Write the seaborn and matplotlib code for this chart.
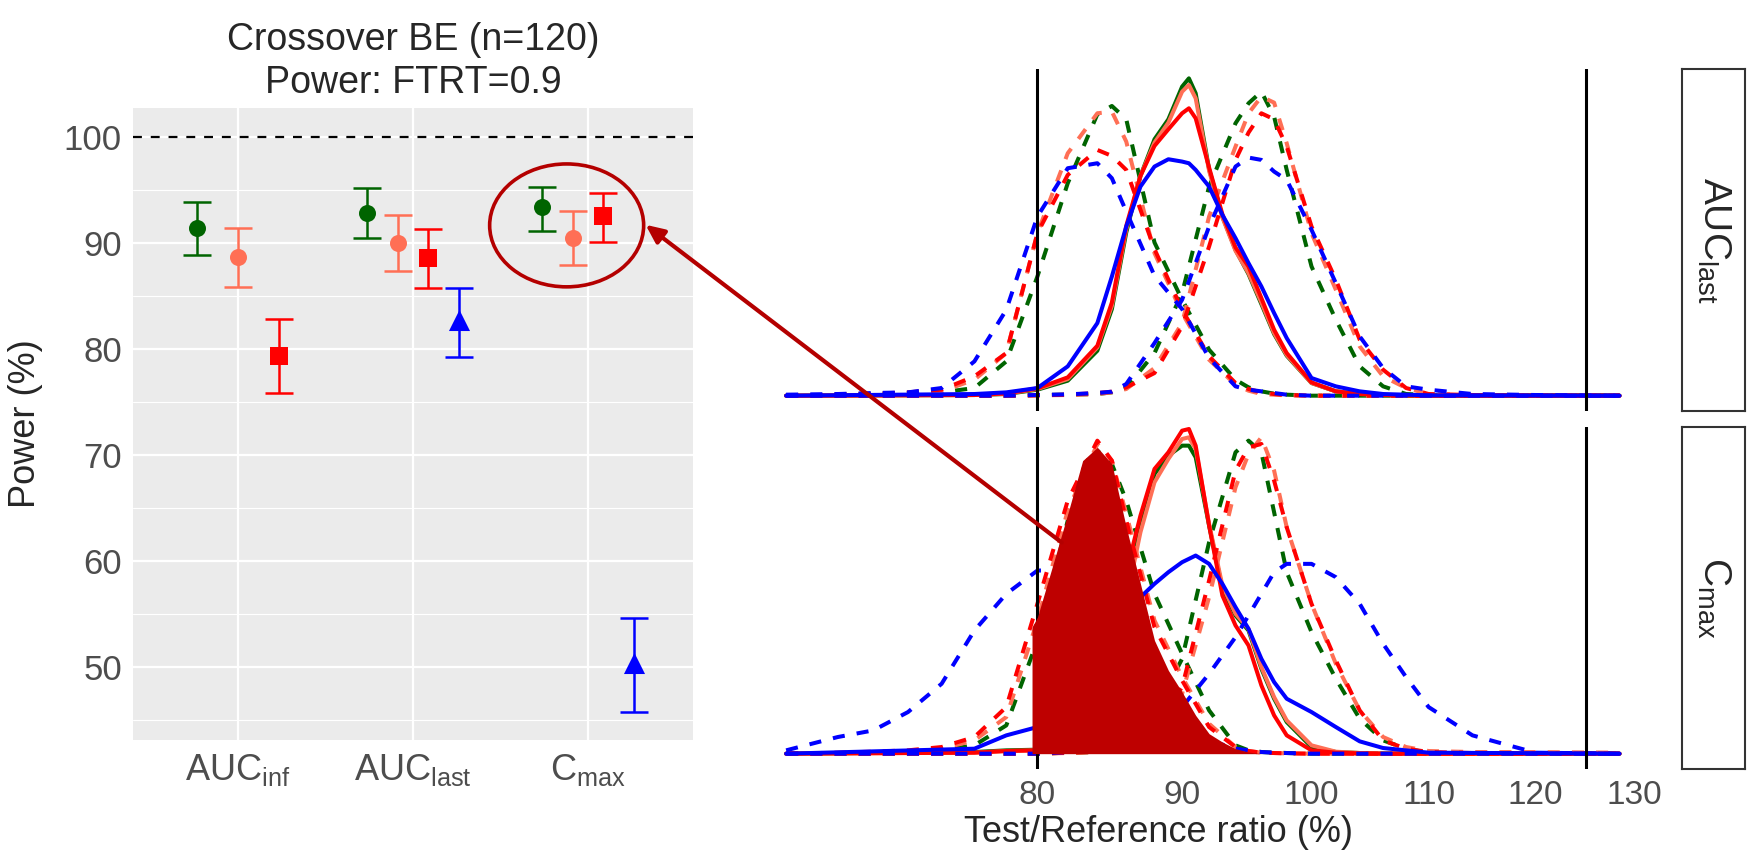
import numpy as np
import pandas as pd
import matplotlib
matplotlib.use('Agg')
import matplotlib.pyplot as plt
import seaborn as sns
from matplotlib.patches import Ellipse, ConnectionPatch
from matplotlib.ticker import NullLocator

sns.set_style('white')
plt.rcParams['font.family'] = ['Liberation Sans', 'DejaVu Sans']
plt.rcParams['mathtext.default'] = 'regular'

# ---- power summary (left panel)
PARAMS = ['AUCinf', 'AUClast', 'Cmax']
PARAM_LABELS = [r'$\mathregular{AUC_{inf}}$', r'$\mathregular{AUC_{last}}$', r'$\mathregular{C_{max}}$']
GROUPS = ['A', 'B', 'C', 'D']

POWER_A = [91.5, 92.9, 93.4]
LO_A = [88.95, 90.55, 91.15]
HI_A = [93.95, 95.2, 95.35]
POWER_B = [88.75, 90.0, 90.55]
LO_B = [85.9, 87.4, 87.95]
HI_B = [91.45, 92.7, 93.05]
POWER_C = [79.4, 88.65, 92.6]
LO_C = [75.85, 85.8, 90.15]
HI_C = [82.85, 91.4, 94.8]
POWER_D = [np.nan, 82.8, 50.4]
LO_D = [np.nan, 79.25, 45.8]
HI_D = [np.nan, 85.8, 54.6]

# ---- simulated ratio distributions (right panels), density in relative units
GRID_CI = [65.2, 68, 70, 72, 74, 76, 78, 80, 82, 84, 85, 86, 88, 90, 92, 94, 95, 96, 97,
           98, 100, 102, 104, 106, 108, 110, 114, 120, 128.5]
GRID_EST = [65.2, 76, 78, 80, 82, 84, 85, 86, 87, 88, 89, 90, 90.5, 91, 92, 93, 94, 95, 96,
            97, 98, 100, 102, 104, 106, 110, 128.5]

# AUClast
AUCLAST_A_EST = [0, 0.2, 0.5, 1.8, 4.5, 13.5, 26.0, 49.0, 66.0, 77.0, 83.0, 92.8, 95.3, 90.8, 68.0,
                 53.8, 43.8, 36.5, 27.5, 18.5, 12.0, 3.8, 1.3, 0.5, 0.2, 0, 0]
AUCLAST_B_EST = [0, 0.2, 0.6, 2.0, 5.0, 14.5, 27.0, 50.0, 66.0, 76.0, 82.0, 91.3, 93.3, 89.3, 67.5,
                 53.5, 43.5, 36.8, 28.0, 18.8, 12.2, 3.8, 1.3, 0.5, 0.2, 0, 0]
AUCLAST_C_EST = [0, 0.2, 0.7, 2.2, 5.5, 15.0, 28.0, 51.0, 66.0, 75.0, 80.0, 84.8, 86.3, 83.3, 68.5,
                 54.5, 44.5, 38.8, 29.3, 19.8, 12.8, 4.0, 1.3, 0.5, 0.2, 0, 0]
AUCLAST_D_EST = [0, 0.5, 1.0, 2.3, 8.8, 21.8, 35.8, 50.8, 62.8, 68.8, 71.0, 70.3, 69.8, 67.8, 62.8,
                 54.3, 47.3, 39.8, 32.8, 24.8, 17.3, 5.3, 2.8, 1.3, 0.5, 0.1, 0]
AUCLAST_A_LO = [0, 0.3, 0.5, 0.8, 1.0, 2.3, 10.3, 35.8, 63.8, 84.5, 87.0, 83.0, 46.0, 28.8, 13.8,
                4.8, 2.5, 1.3, 0.6, 0.3, 0, 0, 0, 0, 0, 0, 0, 0, 0]
AUCLAST_B_LO = [0, 0.3, 0.5, 0.8, 1.3, 4.8, 12.8, 48.8, 72.8, 84.8, 85.3, 76.3, 42.8, 24.8, 10.8,
                3.3, 1.5, 0.5, 0.3, 0.1, 0, 0, 0, 0, 0, 0, 0, 0, 0]
AUCLAST_C_LO = [0, 0.3, 0.6, 1.0, 1.8, 5.8, 12.8, 48.8, 66.3, 73.8, 72.0, 67.8, 44.0, 25.8, 11.8,
                3.8, 2.0, 1.0, 0.5, 0.2, 0, 0, 0, 0, 0, 0, 0, 0, 0]
AUCLAST_D_LO = [0.3, 0.5, 0.8, 1.0, 2.3, 10.3, 25.8, 53.8, 68.3, 69.8, 65.3, 55.3, 36.0, 26.0, 11.3,
                2.8, 1.8, 1.3, 0.8, 0.3, 0, 0, 0, 0, 0, 0, 0, 0, 0]
AUCLAST_A_HI = [0, 0, 0, 0, 0, 0, 0, 0.2, 0.3, 0.5, 1.0, 2.3, 12.8, 30.8, 62.8, 81.8, 87.8, 91.3,
                83.8, 67.8, 38.8, 22.8, 8.8, 2.8, 0.5, 0.2, 0, 0, 0]
AUCLAST_B_HI = [0, 0, 0, 0, 0, 0, 0, 0.1, 0.2, 0.5, 1.0, 2.0, 8.3, 21.8, 53.8, 74.8, 84.8, 89.8,
                88.0, 75.8, 48.8, 31.8, 14.8, 5.8, 2.3, 0.5, 0.2, 0.1, 0]
AUCLAST_C_HI = [0, 0, 0, 0, 0, 0, 0, 0.1, 0.3, 0.8, 1.2, 2.5, 6.8, 20.8, 44.8, 70.8, 79.0, 84.8,
                83.0, 74.8, 50.8, 34.8, 16.8, 7.8, 2.3, 0.5, 0.2, 0, 0]
AUCLAST_D_HI = [0, 0, 0, 0, 0, 0, 0, 0.2, 0.4, 0.8, 1.2, 3.5, 15.8, 28.8, 50.8, 68.8, 71.5, 70.8,
                67.3, 64.8, 49.8, 33.8, 17.8, 8.3, 2.8, 1.8, 0.5, 0.2, 0]

# Cmax
CMAX_A_EST = [0, 0.5, 1.0, 1.2, 3.0, 12.0, 28.0, 50.0, 69.5, 84.0, 89.5, 92.5, 92.5, 89.0, 68.5,
              49.5, 41.5, 37.0, 25.5, 16.5, 9.5, 2.0, 0.5, 0.2, 0, 0, 0]
CMAX_B_EST = [0, 0.3, 0.8, 1.0, 2.5, 10.0, 25.0, 46.0, 66.5, 81.5, 88.5, 94.5, 95.0, 91.5, 69.0,
              50.5, 42.0, 37.5, 26.0, 17.0, 10.0, 2.5, 0.6, 0.2, 0, 0, 0]
CMAX_C_EST = [0, 0.3, 0.8, 1.0, 3.0, 13.0, 30.0, 54.5, 71.5, 85.5, 90.5, 97.0, 97.5, 92.5, 68.5,
              47.5, 38.5, 32.5, 20.5, 11.5, 5.5, 1.0, 0.3, 0.1, 0, 0, 0]
CMAX_D_EST = [0, 1.5, 5.5, 8.0, 20.0, 32.0, 37.0, 42.0, 47.0, 51.0, 54.5, 57.5, 58.5, 59.5, 57.0,
              51.0, 44.0, 37.5, 28.5, 21.5, 16.5, 12.5, 8.0, 3.7, 1.7, 0.3, 0]
CMAX_A_LO = [0, 0.2, 0.3, 0.5, 1.0, 2.5, 8.5, 34.0, 70.0, 91.0, 87.0, 76.0, 48.0, 30.0, 13.0, 2.5,
             1.0, 0.5, 0.3, 0.2, 0, 0, 0, 0, 0, 0, 0, 0, 0]
CMAX_B_LO = [0, 0.2, 0.4, 0.6, 1.5, 4.0, 11.0, 40.0, 73.0, 93.0, 88.0, 72.0, 40.0, 23.0, 9.0, 2.0,
             0.8, 0.3, 0.2, 0.1, 0, 0, 0, 0, 0, 0, 0, 0, 0]
CMAX_C_LO = [0, 0.3, 0.6, 1.0, 2.0, 5.0, 14.0, 45.0, 76.0, 94.0, 88.0, 70.0, 38.0, 22.0, 8.0, 2.0,
             0.8, 0.3, 0.2, 0.1, 0, 0, 0, 0, 0, 0, 0, 0, 0]
CMAX_D_LO = [1.0, 5.0, 7.0, 12.5, 21.0, 37.0, 48.0, 55.0, 55.0, 48.0, 43.0, 36.0, 22.0, 11.0, 4.0,
             1.5, 1.0, 0.5, 0.3, 0.2, 0, 0, 0, 0, 0, 0, 0, 0, 0]
CMAX_A_HI = [0, 0, 0, 0, 0, 0, 0, 0, 0.3, 0.5, 0.7, 1.0, 12.5, 28.5, 63.5, 90.5, 94.0, 90.5, 72.5,
             54.5, 36.5, 22.5, 10.5, 4.0, 1.5, 0.3, 0, 0, 0]
CMAX_B_HI = [0, 0, 0, 0, 0, 0, 0, 0, 0.2, 0.5, 0.8, 1.2, 7.0, 18.0, 47.0, 80.0, 90.0, 95.0, 85.0,
             68.0, 45.0, 27.0, 13.0, 5.0, 2.0, 0.8, 0.5, 0.5, 0.3]
CMAX_C_HI = [0, 0, 0, 0, 0, 0, 0, 0, 0.3, 0.6, 0.9, 1.5, 8.0, 20.0, 52.0, 85.0, 92.0, 93.0, 82.0,
             68.0, 45.0, 28.0, 13.0, 4.0, 1.5, 0.5, 0.2, 0.1, 0]
CMAX_D_HI = [0, 0, 0, 0, 0, 0, 0, 0, 0.5, 1.0, 1.5, 2.0, 8.0, 14.0, 24.0, 35.0, 41.5, 48.0, 54.5,
             57.0, 57.0, 53.0, 45.0, 33.0, 23.0, 14.0, 5.5, 0.3, 0]

# shaded part of a lower-bound distribution above 80 %
FILL_X = [79.65, 80, 81, 82, 83, 84, 85, 86, 87, 88, 89, 90, 91, 92, 93, 94, 95, 96]
FILL_Y = [38, 41, 56.5, 72, 88, 92, 87, 68, 51, 34, 25, 18.5, 11.5, 6, 3.5, 1.5, 0.5, 0]

BE_LIMITS = [80, 125]
RATIO_TICKS = [80, 90, 100, 110, 120, 130]

palette = {'A': '#006400', 'B': '#FF6F55', 'C': '#FF0000', 'D': '#0000FF'}
markers = {'A': 'o', 'B': 'o', 'C': 's', 'D': '^'}
msize = {'A': 150, 'B': 150, 'C': 175, 'D': 230}
DARKRED = '#B40000'
FILLRED = '#BE0000'

power = {'A': POWER_A, 'B': POWER_B, 'C': POWER_C, 'D': POWER_D}
lows = {'A': LO_A, 'B': LO_B, 'C': LO_C, 'D': LO_D}
highs = {'A': HI_A, 'B': HI_B, 'C': HI_C, 'D': HI_D}

W, H = 1747, 858
fig = plt.figure(figsize=(W / 100, H / 100), dpi=100)

# ---------------- left: power with error bars
axL = fig.add_axes([133 / W, 1 - 740 / H, 560 / W, 632 / H])
axL.set_facecolor('#EBEBEB')
for s in axL.spines.values():
    s.set_visible(False)

dodge = 0.7
xpos = {}
for i in range(len(PARAMS)):
    present = [g for g in GROUPS if not np.isnan(power[g][i])]
    n = len(present)
    for k, g in enumerate(present):
        xpos[(g, i)] = i + (k - (n - 1) / 2) * dodge / n

for g in GROUPS:
    idx = [i for i in range(len(PARAMS)) if not np.isnan(power[g][i])]
    xs = np.array([xpos[(g, i)] for i in idx])
    ys = np.array([power[g][i] for i in idx])
    lo = np.array([lows[g][i] for i in idx])
    hi = np.array([highs[g][i] for i in idx])
    axL.errorbar(xs, ys, yerr=[ys - lo, hi - ys], fmt='none', ecolor=palette[g],
                 elinewidth=1.8, capsize=10, capthick=1.8, zorder=3)
    sns.scatterplot(x=xs, y=ys, color=palette[g], marker=markers[g], s=msize[g],
                    linewidth=0, ax=axL, zorder=4)

axL.axhline(100, color='black', lw=1.6, ls=(0, (4, 4)), zorder=2)
axL.set_xlim(-0.6, 2.6)
axL.set_ylim(43.13, 102.78)
axL.set_xticks(range(len(PARAMS)))
axL.set_xticklabels(PARAM_LABELS)
axL.set_yticks([50, 60, 70, 80, 90, 100])
axL.set_yticks([45, 55, 65, 75, 85, 95], minor=True)
axL.grid(which='major', color='white', lw=1.6)
axL.grid(which='minor', axis='y', color='white', lw=0.8)
axL.set_axisbelow(True)
axL.tick_params(axis='both', which='major', length=5, width=1.1, color='#333333',
                labelcolor='#4D4D4D', pad=3)
axL.tick_params(axis='y', labelsize=25)
axL.tick_params(axis='x', labelsize=26, pad=4)
axL.tick_params(which='minor', length=0)
axL.set_xlabel('')
axL.set_ylabel('Power (%)', fontsize=26)
axL.yaxis.set_label_coords(-0.16, 0.5)

axL.add_patch(Ellipse((1.878, 91.7), width=0.88, height=11.6, fill=False,
                      ec=DARKRED, lw=2.6, zorder=5))

fig.text(0.2364, 1 - 50 / H, 'Crossover BE (n=120)', ha='center', va='baseline', fontsize=27)
fig.text(0.2364, 1 - 93 / H, 'Power: FTRT=0.9', ha='center', va='baseline', fontsize=27)

# ---------------- right: distributions of the ratio
def long_frame(prefix):
    parts = []
    for g in GROUPS:
        for kind, grid in [('est', GRID_EST), ('lo', GRID_CI), ('hi', GRID_CI)]:
            vals = globals()[f'{prefix}_{g}_{kind.upper()}']
            parts.append(pd.DataFrame({'ratio': grid, 'dens': vals, 'grp': g, 'kind': kind}))
    return pd.concat(parts, ignore_index=True)


axB = fig.add_axes([636 / W, 1 - 769 / H, 1046 / W, 342 / H], facecolor='none')
axT = fig.add_axes([636 / W, 1 - 411 / H, 1046 / W, 342 / H], facecolor='none', sharex=axB)

for ax, prefix in [(axT, 'AUCLAST'), (axB, 'CMAX')]:
    ax.set_xscale('log')
    sns.lineplot(data=long_frame(prefix), x='ratio', y='dens', hue='grp', style='kind',
                 hue_order=GROUPS, style_order=['est', 'lo', 'hi'], palette=palette,
                 dashes={'est': '', 'lo': (3, 3), 'hi': (3, 3)}, estimator=None,
                 sort=False, linewidth=2.9, legend=False, ax=ax)
    for v in BE_LIMITS:
        ax.axvline(v, color='black', lw=2.2, zorder=3)
    ax.set_ylim(-4.6, 98.1)
    ax.set_yticks([])
    ax.set_ylabel('')
    for s in ax.spines.values():
        s.set_visible(False)

axB.fill_between(FILL_X, 0, FILL_Y, color=FILLRED, lw=0, zorder=4)

axB.set_xlim(57.7, 135.2)
axB.set_xticks(RATIO_TICKS)
axB.set_xticklabels([str(t) for t in RATIO_TICKS])
axB.xaxis.set_minor_locator(NullLocator())
axB.tick_params(axis='x', length=5, width=1.1, color='#333333', labelsize=24,
                labelcolor='#4D4D4D', pad=3)
axB.set_xlabel('Test/Reference ratio (%)', fontsize=26, labelpad=3)
axT.tick_params(axis='x', which='both', length=0, labelbottom=False)
axT.set_xlabel('')

# facet strips
for ax, lab in [(axT, r'$\mathregular{AUC_{last}}$'), (axB, r'$\mathregular{C_{max}}$')]:
    p = ax.get_position()
    sa = fig.add_axes([1682 / W, p.y0, 63 / W, p.height])
    sa.set_facecolor('white')
    sa.set_xticks([])
    sa.set_yticks([])
    for s in sa.spines.values():
        s.set_color('#333333')
        s.set_linewidth(1.5)
    sa.text(0.5, 0.5, lab, rotation=270, ha='center', va='center', fontsize=28,
            transform=sa.transAxes)

# arrow from the shaded distribution back to the circled Cmax estimates
arrow = ConnectionPatch(xyA=(81.6, 63.4), coordsA=axB.transData,
                        xyB=(2.329, 91.76), coordsB=axL.transData,
                        arrowstyle='-|>,head_length=0.55,head_width=0.25',
                        mutation_scale=20, lw=3, color=DARKRED, zorder=10)
fig.add_artist(arrow)

fig.savefig('out.png', dpi=100)
